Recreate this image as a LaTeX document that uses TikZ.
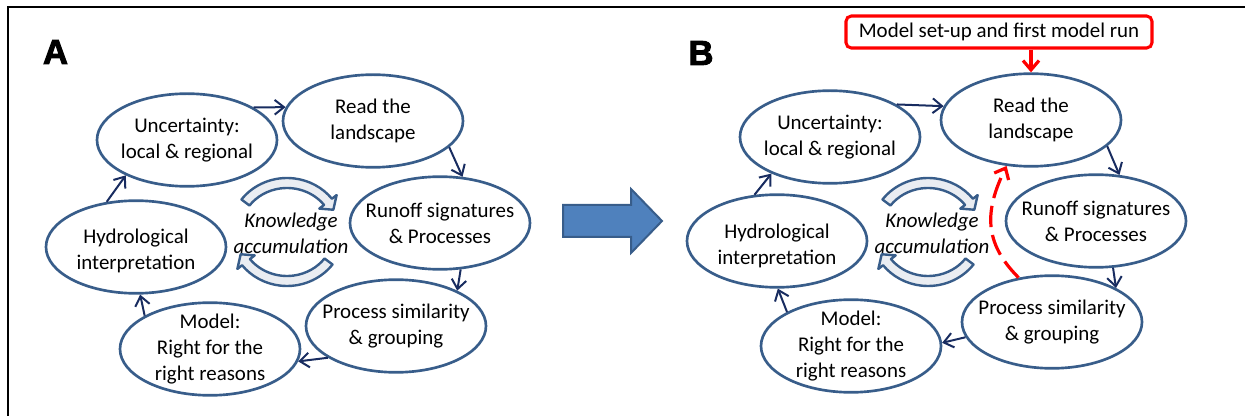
\documentclass[tikz,border=0pt]{standalone}
\usepackage{fontspec}
\setmainfont{Carlito}
\newfontfamily\panelfont[FakeBold=2.6]{Liberation Sans}
\usetikzlibrary{arrows.meta}
\usetikzlibrary{shapes.geometric}

\definecolor{cycblue}{RGB}{56,93,138}
\definecolor{linknavy}{RGB}{24,44,96}
\definecolor{bigblue}{RGB}{79,129,189}
\definecolor{bandfill}{RGB}{234,237,242}

\tikzset{
  cyc/.style={ellipse, draw=cycblue, line width=2pt, minimum width=135pt, minimum height=69.5pt, inner sep=0pt},
  cyctext/.style={align=center, inner sep=0pt, font=\fontsize{15.7}{19.5}\selectfont},
  knowtext/.style={align=center, inner sep=0pt, font=\fontsize{15.7}{19.5}\selectfont\itshape},
  link/.style={draw=linknavy, line width=1.5pt, -{Straight Barb[length=7pt,width=11pt]}},
  redlink/.style={draw=red, line width=2.4pt, -{Straight Barb[length=7pt,width=12pt]}},
  band/.style={draw=cycblue, line width=1.8pt, fill=bandfill, line join=round},
  panel/.style={inner sep=0pt, font=\panelfont\bfseries\fontsize{26}{26}\selectfont},
  setupbox/.style={draw=red, line width=2.3pt, rounded corners=4pt, minimum width=229.5pt, minimum height=24pt, inner sep=0pt, font=\fontsize{15.7}{19.5}\selectfont}
}

\begin{document}
\begin{tikzpicture}[x=0.75pt,y=0.75pt,yscale=-1,xscale=1]
\useasboundingbox (0,0) rectangle (1245,416);

%Frame
\draw [line width=2pt] (1245,7) -| (8,416);

% Panel labels
\node [panel] (labA) at (55.5,52) {A};
\node [panel] (labB) at (701,53) {B};

%Panel A: cycle
\node [cyc, label={[cyctext]center:{Uncertainty:\\local \& regional}}] (uncA) at (187,140) {};
\node [cyc, label={[cyctext]center:{Read the\\landscape}}] (readA) at (373,121) {};
\node [cyc, label={[cyctext]center:{Runoff signatures\\\& Processes}}] (runA) at (440,223) {};
\node [cyc, label={[cyctext]center:{Process similarity\\\& grouping}}] (procA) at (396,326) {};
\node [cyc, label={[cyctext]center:{Model:\\Right for the\\right reasons}}] (modA) at (210,349) {};
\node [cyc, label={[cyctext,yshift=-3pt]center:{Hydrological\\interpretation}}] (hydA) at (136,247) {};

%Panel A: links
\draw [link] (uncA.26) -- (readA.171);
\draw [link] (readA.341) -- (runA.64);
\draw [link] (runA.294) -- (procA.30);
\draw [link] (procA.205) -- (modA.352);
\draw [link] (modA.153) -- (hydA.275);
\draw [link] (hydA.123) -- (uncA.210);

%Panel A: knowledge accumulation
\node [knowtext] (knowA) at (291,233) {Knowledge\\accumulation};
\begin{scope}[shift={(287,232)},yscale=-1]
\draw [band] (143:57 and 54) arc [start angle=143,end angle=38,x radius=57,y radius=54] -- (38:63 and 60) -- (27:52 and 49) -- (38:41 and 38) -- (38:47 and 44) arc [start angle=38,end angle=143,x radius=47,y radius=44] -- cycle;
\draw [band] (323:57 and 54) arc [start angle=323,end angle=218,x radius=57,y radius=54] -- (218:63 and 60) -- (207:52 and 49) -- (218:41 and 38) -- (218:47 and 44) arc [start angle=218,end angle=323,x radius=47,y radius=44] -- cycle;
\end{scope}

%Big arrow
\draw [draw=cycblue, line width=1.5pt, fill=bigblue, line join=miter] (563,205) -- (631,205) -- (631,189) -- (662,221) -- (631,253) -- (631,237) -- (563,237) -- cycle;

%Panel B: cycle
\node [cyc, label={[cyctext]center:{Uncertainty:\\local \& regional}}] (uncB) at (830,137) {};
\node [cyc, label={[cyctext]center:{Read the\\landscape}}] (readB) at (1031,120) {};
\node [cyc, label={[cyctext]center:{Runoff signatures\\\& Processes}}] (runB) at (1096,221) {};
\node [cyc, label={[cyctext]center:{Process similarity\\\& grouping}}] (procB) at (1052,322) {};
\node [cyc, label={[cyctext]center:{Model:\\Right for the\\right reasons}}] (modB) at (851,346) {};
\node [cyc, label={[cyctext,yshift=-4pt]center:{Hydrological\\interpretation}}] (hydB) at (777,241) {};

%Panel B: links
\draw [link] (uncB.26) -- (readB.171);
\draw [link] (readB.341) -- (runB.63);
\draw [link] (runB.290) -- (procB.28);
\draw [link] (procB.190) -- (modB.2);
\draw [link] (modB.152) -- (hydB.271);
\draw [link] (hydB.116) -- (uncB.212);

%Panel B: knowledge accumulation
\node [knowtext] (knowB) at (932,233) {Knowledge\\accumulation};
\begin{scope}[shift={(928,232)},yscale=-1]
\draw [band] (143:57 and 54) arc [start angle=143,end angle=38,x radius=57,y radius=54] -- (38:63 and 60) -- (27:52 and 49) -- (38:41 and 38) -- (38:47 and 44) arc [start angle=38,end angle=143,x radius=47,y radius=44] -- cycle;
\draw [band] (323:57 and 54) arc [start angle=323,end angle=218,x radius=57,y radius=54] -- (218:63 and 60) -- (207:52 and 49) -- (218:41 and 38) -- (218:47 and 44) arc [start angle=218,end angle=323,x radius=47,y radius=44] -- cycle;
\end{scope}

%Panel B: model set-up
\node [setupbox] (setup) at (999,32) {Model set-up and first model run};
\draw [redlink] (setup.south -| readB.north) -- (readB.north);
\draw [redlink, dash pattern={on 16pt off 6pt}] (procB.127) .. controls +(-35,-35) and +(-22,45) .. (readB.242);

\end{tikzpicture}
\end{document}
